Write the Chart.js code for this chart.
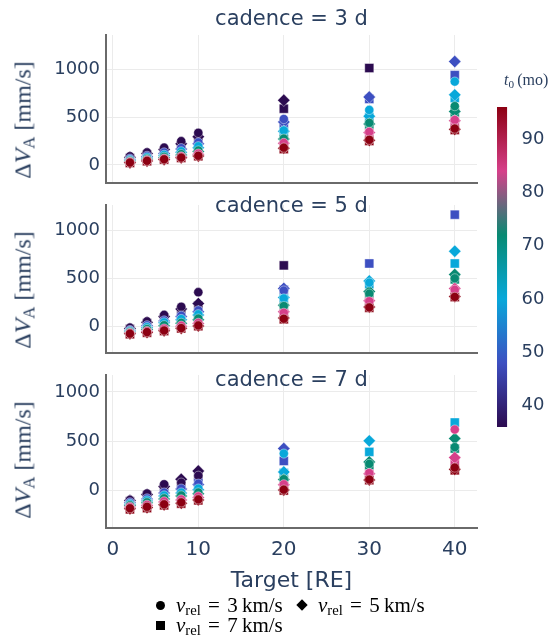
<!DOCTYPE html>
<html><head><meta charset="utf-8">
<script src="https://cdn.jsdelivr.net/npm/chart.js@4.4.0/dist/chart.umd.min.js"></script>
<style>
html,body{margin:0;padding:0;background:#fff;width:549px;height:637px;overflow:hidden;position:relative}
canvas{display:block}
.box{position:absolute}
.ytitle{position:absolute;font-family:"Liberation Serif","DejaVu Serif",serif;font-size:24px;color:#2a3f5f;white-space:nowrap;transform:translate(-50%,-50%) rotate(-90deg)}
.ytitle sub,.cbt sub,.leg sub{font-size:70%;vertical-align:-0.25em;line-height:0}
.xtitle{position:absolute;font-family:"DejaVu Sans",sans-serif;font-size:22px;color:#2a3f5f;white-space:nowrap;transform:translate(-50%,-50%)}
.cbt{position:absolute;font-family:"Liberation Serif","DejaVu Serif",serif;font-size:16px;color:#2a3f5f;white-space:nowrap;transform:translateY(-50%)}
.leg{position:absolute;font-family:"Liberation Serif","DejaVu Serif",serif;font-size:21px;color:#000;white-space:nowrap;transform:translateY(-50%)}
.leg .eq{margin:0 2px}
.mk{position:absolute;background:#000}
</style></head><body>
<script>
// ---------------- data ----------------
const targets = [2, 4, 6, 8, 10, 20, 30, 40];
const t0Values = [36, 48, 60, 72, 84, 96];
const cadences = [3, 5, 7];
const vrels = [3, 5, 7];
const xTicks = [0, 10, 20, 30, 40];
const yTicks = [0, 500, 1000];
const cbTicks = [40, 50, 60, 70, 80, 90];

// rows: t0 = 36,48,60,72,84,96 ; columns: targets
const cad3_v3 = [
  [90, 130, 180, 248, 335, null, null, null],
  [65, 95, 130, 175, 235, 480, null, null],
  [52, 78, 105, 142, 195, 360, 575, 872],
  [42, 62, 84, 112, 150, 275, 440, 615],
  [32, 50, 66, 88, 118, 230, 345, 470],
  [24, 42, 58, 76, 95, 180, 262, 380]];
const cad3_v5 = [
  [80, 118, 160, 220, 295, 676, null, null],
  [60, 88, 120, 165, 220, 450, 710, 1082],
  [48, 72, 98, 132, 180, 352, 510, 733],
  [38, 58, 78, 104, 140, 271, 429, 560],
  [28, 46, 62, 82, 110, 226, 338, 463],
  [22, 40, 56, 74, 92, 175, 257, 372]];
const cad3_v7 = [
  [70, 105, 145, 200, 270, 588, 1014, null],
  [55, 82, 112, 155, 205, 429, 690, 940],
  [45, 68, 92, 125, 170, 345, 500, 700],
  [35, 55, 74, 98, 132, 265, 420, 548],
  [26, 44, 60, 80, 105, 215, 330, 455],
  [20, 38, 55, 72, 90, 165, 250, 365]];
const cad5_v3 = [
  [-15, 50, 118, 203, 355, null, null, null],
  [-40, 10, 60, 110, 165, 372, null, null],
  [-50, -10, 40, 75, 125, 290, 455, null],
  [-60, -30, 10, 35, 80, 210, 340, 500],
  [-70, -50, -25, 5, 35, 140, 260, 380],
  [-78, -62, -45, -20, 8, 78, 196, 306]];
const cad5_v5 = [
  [-25, 40, 100, 180, 236, null, null, null],
  [-42, 5, 55, 100, 152, 395, null, null],
  [-52, -15, 35, 68, 118, 300, 473, 783],
  [-62, -35, 5, 30, 68, 220, 362, 540],
  [-72, -55, -30, 0, 28, 150, 266, 395],
  [-80, -65, -48, -22, 3, 85, 200, 310]];
const cad5_v7 = [
  [-30, 30, 88, 160, 215, 635, null, null],
  [-45, 0, 50, 92, 145, 380, 655, 1165],
  [-55, -20, 30, 60, 110, 287, 439, 655],
  [-65, -40, 0, 25, 60, 199, 304, 489],
  [-75, -58, -35, -5, 20, 132, 253, 355],
  [-84, -68, -51, -24, 0, 72, 192, 304]];
const cad7_v3 = [
  [-95, -30, 63, 80, 150, null, null, null],
  [-120, -80, -20, 20, 70, null, null, null],
  [-135, -100, -50, -20, 20, 375, null, null],
  [-150, -120, -80, -50, -20, 115, 270, 440],
  [-165, -145, -110, -90, -60, 63, 178, 619],
  [-180, -165, -140, -120, -90, 9, 111, 233]];
const cad7_v5 = [
  [-100, -40, 40, 114, 198, null, null, null],
  [-125, -85, -25, 15, 60, 426, null, null],
  [-138, -105, -55, -25, 9, 188, 504, null],
  [-152, -125, -85, -55, -32, 111, 290, 528],
  [-168, -150, -115, -95, -70, 58, 170, 334],
  [-185, -172, -145, -128, -95, 5, 108, 215]];
const cad7_v7 = [
  [-110, -50, 30, 70, 140, null, null, null],
  [-128, -90, -30, 10, 80, 300, null, null],
  [-140, -110, -60, -30, 5, 178, 392, 690],
  [-155, -130, -90, -60, -40, 105, 256, 426],
  [-170, -155, -120, -100, -75, 50, 165, 290],
  [-191, -178, -150, -133, -100, 0, 105, 205]];

const panelData = [
  [cad3_v3, cad3_v5, cad3_v7],
  [cad5_v3, cad5_v5, cad5_v7],
  [cad7_v3, cad7_v5, cad7_v7]];

// ---------------- styling ----------------
const TXT = '#2a3f5f';
const cMin = 36, cMax = 96;
const csPos = [0, 0.2, 0.4, 0.6, 0.8, 1];
const csCol = [[44, 11, 80], [61, 79, 193], [8, 168, 218], [8, 138, 114], [214, 64, 138], [140, 0, 18]];
function colorFor(v) {
  let f = (v - cMin) / (cMax - cMin);
  f = Math.max(0, Math.min(1, f));
  for (let i = 0; i < csPos.length - 1; i++) {
    if (f <= csPos[i + 1]) {
      const t = (f - csPos[i]) / (csPos[i + 1] - csPos[i]);
      const a = csCol[i], b = csCol[i + 1];
      return `rgb(${Math.round(a[0] + (b[0] - a[0]) * t)},${Math.round(a[1] + (b[1] - a[1]) * t)},${Math.round(a[2] + (b[2] - a[2]) * t)})`;
    }
  }
  return `rgb(${csCol[5].join(',')})`;
}

const shapes = ['circle', 'rectRot', 'rect'];
const radii = [4.6, 6.2, 6.4];
const yRanges = [[-190, 1360], [-280, 1266], [-380, 1172]];
const areaTop = [35, 205, 375];
const areaBottom = [188, 358, 528];
const titleBase = [25, 212, 386];
const plotLeft = 106, plotRight = 477;
const xMin = -0.8, xMax = 42.6;

function makeBox(left, top, w, h) {
  const d = document.createElement('div');
  d.className = 'box';
  d.style.left = left + 'px'; d.style.top = top + 'px';
  d.style.width = w + 'px'; d.style.height = h + 'px';
  const c = document.createElement('canvas');
  c.width = w; c.height = h;
  c.style.width = w + 'px'; c.style.height = h + 'px';
  d.appendChild(c);
  document.body.appendChild(d);
  return c;
}

for (let p = 0; p < 3; p++) {
  const isBottom = p === 2;
  const canvasTop = areaTop[p] - 35;
  const xh = isBottom ? 40 : 2;
  const h = areaBottom[p] + xh - canvasTop;
  const cv = makeBox(0, canvasTop, 549, h);
  const datasets = vrels.map((vr, s) => {
    const pts = [];
    panelData[p][s].forEach((row, r) => {
      row.forEach((val, k) => {
        if (val !== null) pts.push({ x: targets[k], y: val, t0: t0Values[r] });
      });
    });
    return {
      label: 'v_rel = ' + vr + ' km/s',
      data: pts,
      pointStyle: shapes[s],
      pointRadius: radii[s],
      pointHoverRadius: radii[s],
      pointBorderWidth: 0.6,
      pointBorderColor: 'rgba(255,255,255,0.7)',
      pointBackgroundColor: ctx => colorFor(ctx.raw ? ctx.raw.t0 : cMin),
      showLine: false
    };
  });
  const title = 'cadence = ' + cadences[p] + ' d';
  new Chart(cv, {
    type: 'scatter',
    data: { datasets },
    options: {
      responsive: false,
      animation: false,
      layout: { padding: { top: 35, left: 0, right: 549 - plotRight, bottom: 0 } },
      plugins: { legend: { display: false }, tooltip: { enabled: false } },
      scales: {
        x: {
          type: 'linear', min: xMin, max: xMax,
          afterBuildTicks: s => { s.ticks = xTicks.map(v => ({ value: v })); },
          afterFit: s => { s.height = xh; s.paddingLeft = 0; s.paddingRight = 0; },
          grid: { color: '#ebebeb', lineWidth: 1, drawTicks: false },
          border: { display: true, color: '#6a6a6a', width: 2 },
          ticks: { display: isBottom, padding: 10, color: TXT, font: { family: 'DejaVu Sans', size: 20 }, callback: v => String(v) }
        },
        y: {
          type: 'linear', min: yRanges[p][0], max: yRanges[p][1],
          afterBuildTicks: s => { s.ticks = yTicks.map(v => ({ value: v })); },
          afterFit: s => { s.width = plotLeft; s.paddingTop = 0; s.paddingBottom = 0; },
          grid: { color: '#ebebeb', lineWidth: 1, drawTicks: false },
          border: { display: true, color: '#6a6a6a', width: 2 },
          ticks: { padding: 6, color: TXT, font: { family: 'DejaVu Sans', size: 18 }, callback: v => String(v) }
        }
      }
    },
    plugins: [{
      id: 'facetTitle',
      afterDraw(chart) {
        const ctx = chart.ctx, a = chart.chartArea;
        ctx.save();
        ctx.font = '21px "DejaVu Sans"';
        ctx.fillStyle = TXT;
        ctx.textAlign = 'center';
        ctx.textBaseline = 'alphabetic';
        ctx.fillText(title, (a.left + a.right) / 2, titleBase[p] - canvasTop);
        ctx.restore();
      }
    }]
  });

  const yt = document.createElement('div');
  yt.className = 'ytitle';
  yt.innerHTML = 'Δ<i>V</i><sub>A</sub> [mm/s]';
  yt.style.left = '23px';
  yt.style.top = ((areaTop[p] + areaBottom[p]) / 2 + 8) + 'px';
  document.body.appendChild(yt);
}

// colorbar
const cbCanvas = makeBox(480, 90, 69, 350);
new Chart(cbCanvas, {
  type: 'bar',
  data: {
    labels: [''],
    datasets: [{
      data: [[cMin, cMax]],
      barPercentage: 1, categoryPercentage: 1,
      borderWidth: 0,
      backgroundColor: c => {
        const ch = c.chart, a = ch.chartArea;
        if (!a) return '#888';
        const y0 = ch.scales.y.getPixelForValue(cMin), y1 = ch.scales.y.getPixelForValue(cMax);
        const g = ch.ctx.createLinearGradient(0, y0, 0, y1);
        csPos.forEach((pp, i) => g.addColorStop(pp, `rgb(${csCol[i].join(',')})`));
        return g;
      }
    }]
  },
  options: {
    responsive: false, animation: false,
    layout: { padding: { left: 17, top: 17, bottom: 13, right: 0 } },
    plugins: { legend: { display: false }, tooltip: { enabled: false } },
    scales: {
      x: { display: false, offset: false },
      y: {
        position: 'right', min: cMin, max: cMax,
        afterBuildTicks: s => { s.ticks = cbTicks.map(v => ({ value: v })); },
        afterFit: s => { s.width = 32.5; s.paddingTop = 0; s.paddingBottom = 0; },
        grid: { display: false, drawTicks: false },
        border: { display: false },
        ticks: { padding: 5, color: TXT, font: { family: 'DejaVu Sans', size: 18 }, callback: v => String(v) }
      }
    }
  }
});

// texts
const xt = document.createElement('div');
xt.className = 'xtitle';
xt.textContent = 'Target [RE]';
xt.style.left = ((plotLeft + plotRight) / 2) + 'px';
xt.style.top = '579px';
document.body.appendChild(xt);

const cbt = document.createElement('div');
cbt.className = 'cbt';
cbt.innerHTML = '<i>t</i><sub>0</sub>&thinsp;(mo)';
cbt.style.left = '504px';
cbt.style.top = '80px';
document.body.appendChild(cbt);

// legend
function legItem(shape, mx, my, tx, vr) {
  const m = document.createElement('div');
  m.className = 'mk';
  if (shape === 'circle') { m.style.width = '9px'; m.style.height = '9px'; m.style.borderRadius = '50%'; m.style.left = (mx - 4.5) + 'px'; m.style.top = (my - 4.5) + 'px'; }
  if (shape === 'rect') { m.style.width = '9px'; m.style.height = '9px'; m.style.left = (mx - 4.5) + 'px'; m.style.top = (my - 4.5) + 'px'; }
  if (shape === 'rectRot') { m.style.width = '8px'; m.style.height = '8px'; m.style.left = (mx - 4) + 'px'; m.style.top = (my - 4) + 'px'; m.style.transform = 'rotate(45deg)'; }
  document.body.appendChild(m);
  const t = document.createElement('div');
  t.className = 'leg';
  t.innerHTML = '<i>v</i><sub>rel</sub> <span class="eq">=</span> ' + vr + '&thinsp;km/s';
  t.style.left = tx + 'px';
  t.style.top = my + 'px';
  document.body.appendChild(t);
}
legItem('circle', 160, 605, 176, vrels[0]);
legItem('rectRot', 302, 605, 318, vrels[1]);
legItem('rect', 160, 625, 176, vrels[2]);
</script>
</body></html>
